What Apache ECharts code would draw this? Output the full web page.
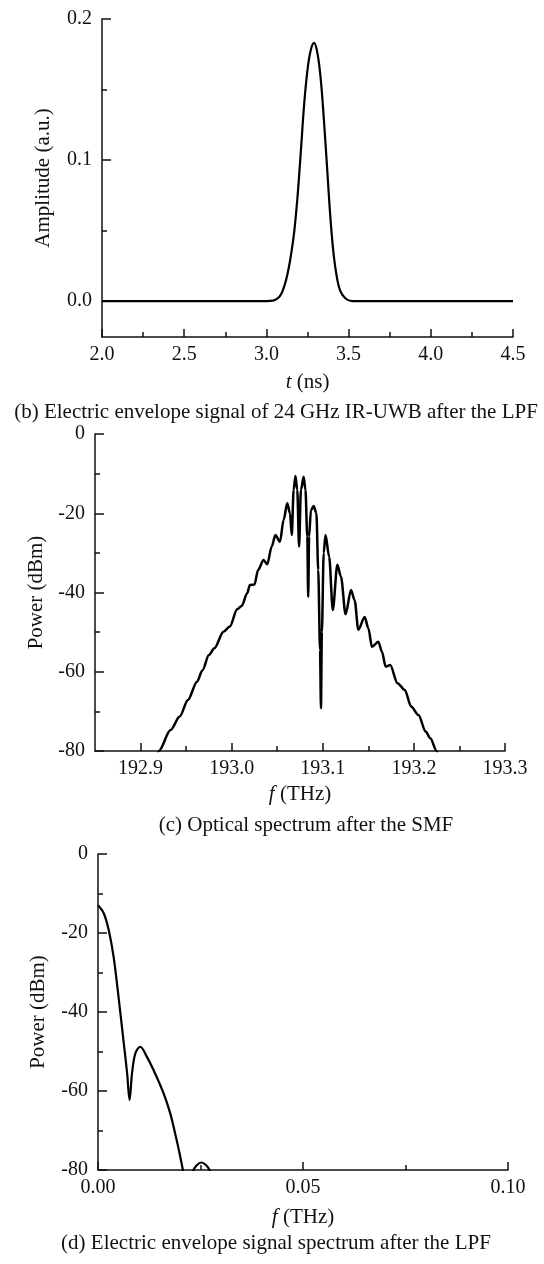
<!DOCTYPE html>
<html>
<head>
<meta charset="utf-8">
<script src="https://cdn.jsdelivr.net/npm/echarts@6/dist/echarts.min.js"></script>
<style>
  html, body { margin: 0; padding: 0; background: #fff; }
  #chart { width: 544px; height: 1264px; }
</style>
</head>
<body>
<div id="chart"></div>
<script>
"use strict";

// (b) envelope pulse after the LPF
var pulseTime = [2.0, 2.5, 3.0, 3.04, 3.07, 3.09, 3.11, 3.13, 3.15, 3.17, 3.19, 3.21, 3.23, 3.25, 3.27, 3.29,
  3.31, 3.33, 3.35, 3.37, 3.39, 3.41, 3.43, 3.45, 3.48, 3.52, 4.0, 4.5];
var pulseAmp = [0, 0, 0, 0.0003, 0.002, 0.005, 0.011, 0.020, 0.033, 0.050, 0.075, 0.107, 0.140, 0.164, 0.178, 0.183,
  0.176, 0.158, 0.128, 0.093, 0.058, 0.032, 0.016, 0.007, 0.002, 0, 0, 0];

// (c) optical spectrum after the SMF
var optFreq = [192.915, 192.920, 192.933, 192.943, 192.952, 192.962, 192.968, 192.975, 192.981, 192.991,
  192.998, 193.006, 193.011, 193.017, 193.020, 193.025, 193.029, 193.035, 193.039, 193.044,
  193.048, 193.053, 193.057, 193.061, 193.064, 193.066, 193.068, 193.070, 193.072, 193.074,
  193.076, 193.079, 193.081, 193.083, 193.084, 193.085, 193.087, 193.090, 193.093, 193.095,
  193.097, 193.098, 193.099, 193.101, 193.103, 193.107, 193.111, 193.116, 193.120, 193.125,
  193.131, 193.135, 193.139, 193.146, 193.150, 193.154, 193.161, 193.165, 193.169, 193.174,
  193.182, 193.190, 193.197, 193.205, 193.213, 193.218, 193.225, 193.230];
var optPower = [-86, -80, -74.7, -71.3, -67.1, -62.5, -59.6, -55.8, -54.1, -49.9,
  -48.6, -44.2, -43.4, -40.2, -38.1, -38.0, -34.3, -31.8, -32.9, -28.4,
  -25.5, -27.2, -21.7, -17.5, -20.0, -25.5, -14.1, -10.6, -14.1, -28.4,
  -14.1, -10.8, -14.1, -25.9, -41.1, -25.9, -19.2, -18.2, -20.0, -34.3,
  -54.5, -69.2, -50, -30, -25.5, -31.0, -44.4, -33.0, -36, -45.5,
  -39.4, -42, -49.4, -46.2, -49, -53.7, -52.4, -55, -58.7, -58.3,
  -62.9, -64.6, -68.8, -70.9, -75.1, -76.8, -80, -86];

// (d) electric envelope spectrum after the LPF
var envFreq = [0, 0.0014, 0.0026, 0.0038, 0.0050, 0.0062, 0.0071, 0.0077, 0.0083, 0.0091,
  0.0103, 0.0119, 0.0139, 0.0160, 0.0176, 0.0188, 0.0199, 0.0207, 0.0218, 0.0233,
  0.0252, 0.0272, 0.0285];
var envPower = [-13, -15, -19.2, -26, -36.1, -47.1, -55.5, -62.3, -55.5, -50.5,
  -48.8, -51.3, -55.5, -60.6, -65.6, -70.7, -75.8, -80, -86, -80,
  -78.1, -80, -86];

// tick positions
var tTicks = [2.0, 2.5, 3.0, 3.5, 4.0, 4.5];
var tMinor = [2.25, 2.75, 3.25, 3.75, 4.25];
var ampTicks = [0, 0.1, 0.2];
var ampMinor = [0.05, 0.15];
var optTicks = [192.9, 193.0, 193.1, 193.2, 193.3];
var optMinor = [192.95, 193.05, 193.15, 193.25];
var powerTicks = [-80, -60, -40, -20, 0];
var powerMinor = [-70, -50, -30, -10];
var envTicks = [0, 0.05, 0.1];
var envMinor = [0.025, 0.075];

var FONT = "'Liberation Serif', 'Times New Roman', serif";
var INK = '#111';

function zip(xs, ys) {
  return xs.map(function (x, i) { return [x, ys[i]]; });
}

function mainAxis(grid, min, max, ticks, digits, isY, name, gap) {
  return {
    type: 'value', gridIndex: grid, min: min, max: max,
    position: isY ? 'left' : 'bottom',
    name: name, nameLocation: 'middle', nameGap: gap,
    nameTextStyle: { fontFamily: FONT, fontSize: 21, color: INK,
      rich: { i: { fontFamily: FONT, fontSize: 21, fontStyle: 'italic', color: INK } } },
    axisLine: { show: true, onZero: false, lineStyle: { color: INK, width: 1.5 } },
    axisTick: { show: true, inside: true, length: isY ? 9 : 8, customValues: ticks,
      lineStyle: { color: INK, width: 1.5 } },
    axisLabel: { show: true, customValues: ticks, margin: isY ? 10 : 8,
      fontFamily: FONT, fontSize: 20, color: INK,
      formatter: function (v) { return (+v).toFixed(digits); } },
    splitLine: { show: false }
  };
}

function minorAxis(grid, min, max, ticks, isY) {
  return {
    type: 'value', gridIndex: grid, min: min, max: max,
    position: isY ? 'left' : 'bottom',
    axisLine: { show: false, onZero: false },
    axisTick: { show: true, inside: true, length: 5, customValues: ticks,
      lineStyle: { color: INK, width: 1.5 } },
    axisLabel: { show: false },
    splitLine: { show: false }
  };
}

function caption(text, x, y) {
  return {
    type: 'text', x: x, y: y,
    style: { text: text, fontFamily: FONT, fontSize: 21, fill: INK,
      align: 'center', verticalAlign: 'middle' }
  };
}

var chart = echarts.init(document.getElementById('chart'));

var option = {
  backgroundColor: '#ffffff',
  animation: false,
  grid: [
    { left: 102, top: 19, width: 411, height: 318 },
    { left: 95, top: 434, width: 410, height: 317 },
    { left: 98, top: 854, width: 410, height: 316 }
  ],
  xAxis: [
    mainAxis(0, 2.0, 4.5, tTicks, 1, false, '{i|t} (ns)', 35),
    minorAxis(0, 2.0, 4.5, tMinor, false),
    mainAxis(1, 192.85, 193.3, optTicks, 1, false, '{i|f} (THz)', 33),
    minorAxis(1, 192.85, 193.3, optMinor, false),
    mainAxis(2, 0, 0.1, envTicks, 2, false, '{i|f} (THz)', 37),
    minorAxis(2, 0, 0.1, envMinor, false)
  ],
  yAxis: [
    mainAxis(0, -0.0255, 0.2, ampTicks, 1, true, 'Amplitude (a.u.)', 48),
    minorAxis(0, -0.0255, 0.2, ampMinor, true),
    mainAxis(1, -80, 0, powerTicks, 0, true, 'Power (dBm)', 46),
    minorAxis(1, -80, 0, powerMinor, true),
    mainAxis(2, -80, 0, powerTicks, 0, true, 'Power (dBm)', 49),
    minorAxis(2, -80, 0, powerMinor, true)
  ],
  series: [
    {
      type: 'line', xAxisIndex: 0, yAxisIndex: 0, data: zip(pulseTime, pulseAmp),
      showSymbol: false, smooth: 0.4, clip: true,
      lineStyle: { color: '#000', width: 2.2 }
    },
    {
      type: 'line', xAxisIndex: 2, yAxisIndex: 2, data: zip(optFreq, optPower),
      showSymbol: false, smooth: 0.3, smoothMonotone: 'x', clip: true,
      lineStyle: { color: '#000', width: 2.5 }
    },
    {
      type: 'line', xAxisIndex: 4, yAxisIndex: 4, data: zip(envFreq, envPower),
      showSymbol: false, smooth: 0.35, clip: true,
      lineStyle: { color: '#000', width: 2.2 }
    }
  ],
  graphic: [
    caption('(b) Electric envelope signal of 24 GHz IR-UWB after the LPF', 276, 412),
    caption('(c) Optical spectrum after the SMF', 306, 825),
    caption('(d) Electric envelope signal spectrum after the LPF', 276, 1243)
  ]
};

chart.setOption(option);
</script>
</body>
</html>
